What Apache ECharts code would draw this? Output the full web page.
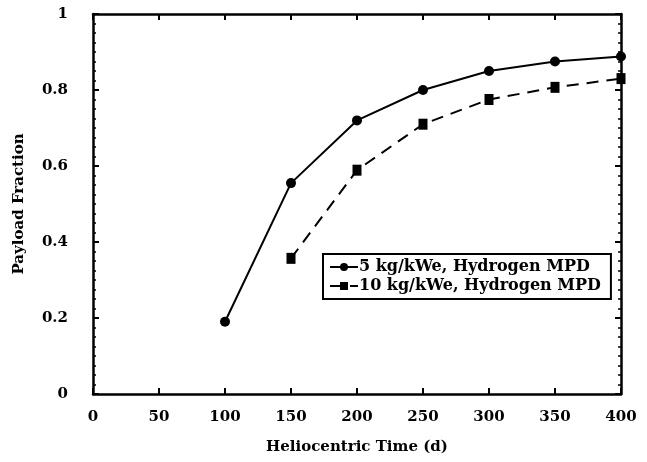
<!DOCTYPE html>
<html>
<head>
<meta charset="utf-8">
<script src="https://cdn.jsdelivr.net/npm/echarts@6/dist/echarts.min.js"></script>
<style>
  html, body { margin: 0; padding: 0; background: #fff; }
  #chart { width: 647px; height: 462px; }
</style>
</head>
<body>
<div id="chart"></div>
<script>
// payload fraction vs heliocentric trip time
const times5 = [100, 150, 200, 250, 300, 350, 400];
const payload5 = [0.19, 0.555, 0.72, 0.80, 0.85, 0.875, 0.888];

const times10 = [150, 200, 250, 300, 350, 400];
const payload10 = [0.357, 0.589, 0.71, 0.775, 0.807, 0.83];

const seriesNames = ['5 kg/kWe, Hydrogen MPD', '10 kg/kWe, Hydrogen MPD'];

const FONT = 'DejaVu Serif';
const INK = '#000';

const chart = echarts.init(document.getElementById('chart'), null, { renderer: 'canvas' });

const baseX = {
  type: 'value',
  min: 0,
  max: 400,
  interval: 50,
  axisLine: { onZero: false, lineStyle: { color: INK, width: 2.5 } },
  axisTick: { inside: true, length: 6, lineStyle: { color: INK, width: 2 } },
  splitLine: { show: false },
};

const baseY = {
  type: 'value',
  min: 0,
  max: 1,
  interval: 0.2,
  axisLine: { onZero: false, lineStyle: { color: INK, width: 2.5 } },
  axisTick: { inside: true, length: 6, lineStyle: { color: INK, width: 2 } },
  minorTick: { show: true, splitNumber: 8, length: 3, lineStyle: { color: INK, width: 1.5 } },
  splitLine: { show: false },
  minorSplitLine: { show: false },
};

const labelFont = { fontFamily: FONT, fontWeight: 'bold', fontSize: 15, color: INK };

const option = {
  backgroundColor: '#fff',
  animation: false,
  textStyle: { fontFamily: FONT, fontWeight: 'bold', color: INK },
  grid: { left: 93, right: 26, top: 14, bottom: 68 },
  xAxis: [
    {
      ...baseX,
      position: 'bottom',
      name: 'Heliocentric Time (d)',
      nameLocation: 'middle',
      nameGap: 46,
      nameTextStyle: labelFont,
      axisLabel: { ...labelFont, margin: 16 },
    },
    { ...baseX, position: 'top', axisLabel: { show: false } },
  ],
  yAxis: [
    {
      ...baseY,
      position: 'left',
      name: 'Payload Fraction',
      nameLocation: 'middle',
      nameGap: 66,
      nameTextStyle: labelFont,
      axisLabel: { ...labelFont, margin: 25 },
    },
    { ...baseY, position: 'right', axisLabel: { show: false } },
  ],
  legend: {
    orient: 'vertical',
    left: 323,
    top: 254,
    padding: [5, 10, 5, 6],
    itemGap: 3,
    itemWidth: 28,
    itemHeight: 10,
    borderColor: INK,
    borderWidth: 2,
    borderRadius: 0,
    backgroundColor: '#fff',
    textStyle: { fontFamily: FONT, fontWeight: 'bold', fontSize: 16, color: INK, padding: [0, 0, 0, -4] },
    data: seriesNames,
  },
  series: [
    {
      name: seriesNames[0],
      type: 'line',
      data: times5.map((t, i) => [t, payload5[i]]),
      symbol: 'circle',
      symbolSize: 10,
      clip: false,
      lineStyle: { color: INK, width: 2 },
      itemStyle: { color: INK },
    },
    {
      name: seriesNames[1],
      type: 'line',
      data: times10.map((t, i) => [t, payload10[i]]),
      symbol: 'rect',
      symbolSize: [9, 11],
      clip: false,
      lineStyle: { color: INK, width: 2, type: [12, 8] },
      itemStyle: { color: INK },
    },
  ],
};

chart.setOption(option);
</script>
</body>
</html>
